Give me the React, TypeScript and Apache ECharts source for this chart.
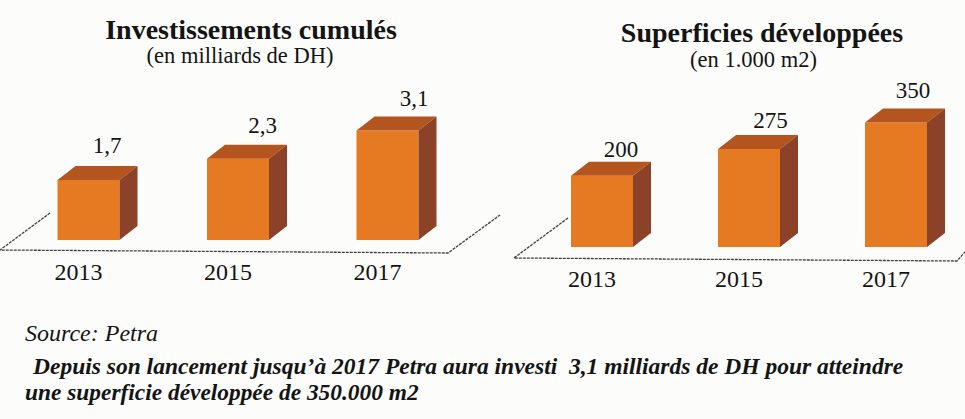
import React, { useEffect, useRef } from "react";
import * as echarts from "echarts";

const years = ["2013", "2015", "2017"];
const investValues = [1.7, 2.3, 3.1];
const areaValues = [200, 275, 350];

const titleLeft = "Investissements cumulés";
const subLeft = "(en milliards de DH)";
const titleRight = "Superficies développées";
const subRight = "(en 1.000 m2)";
const sourceText = "Source: Petra";
const noteLine1 = "Depuis son lancement jusqu’à 2017 Petra aura investi  3,1 milliards de DH pour atteindre";
const noteLine2 = "une superficie développée de 350.000 m2";

const SERIF = '"Liberation Serif", "Times New Roman", serif';
const INK = "#141414";
const FLOOR = "#3e3e3c";

// Where each value label sits relative to its box (layout, not data).
const leftLabelShift = [[18.5, 20], [24.5, 19], [26.5, 18]];
const rightLabelShift = [[19, 12], [21.5, 15], [17, 18]];

const renderBox3D = (fmt: (v: number) => string, shifts: number[][]) => (p: any, api: any) => {
  const w = 62, dx = 18, dy = 14;
  const v = api.value(1);
  const c = api.value(0);
  const base = api.coord([c, 0]);
  const top = api.coord([c, v]);
  const x0 = base[0] - w / 2;
  const x1 = base[0] + w / 2;
  const yB = base[1];
  const yT = top[1];
  const [lx, ly] = shifts[p.dataIndex];
  return {
    type: "group",
    children: [
      { type: "rect", shape: { x: x0, y: yT, width: w, height: yB - yT }, style: { fill: "#e67a22" } },
      { type: "polygon", shape: { points: [[x0, yT], [x0 + dx, yT - dy], [x1 + dx, yT - dy], [x1, yT]] }, style: { fill: "#b4551f" } },
      { type: "polygon", shape: { points: [[x1, yT], [x1 + dx, yT - dy], [x1 + dx, yB - dy], [x1, yB]] }, style: { fill: "#8c4228" } },
      {
        type: "text",
        x: base[0] + lx,
        y: yT - dy - ly,
        style: { text: fmt(v), font: `23px ${SERIF}`, fill: INK, textAlign: "center", textVerticalAlign: "middle" },
      },
    ],
  };
};

const xAxisOf = (gridIndex: number, margin: number) => ({
  type: "category" as const,
  gridIndex,
  data: years,
  axisLine: { show: false },
  axisTick: { show: false },
  axisLabel: { margin, fontFamily: SERIF, fontSize: 24, color: INK, padding: [0, 20, 0, 0] },
});
const yAxisOf = (gridIndex: number, max: number) => ({
  type: "value" as const,
  gridIndex,
  min: 0,
  max,
  show: false,
  splitLine: { show: false },
});
const floor = (points: number[][]) => ({
  type: "polyline",
  silent: true,
  shape: { points },
  style: { fill: "none", stroke: FLOOR, lineWidth: 1.3, lineDash: [3, 1] },
});
const heading = (text: string, left: number, top: number, bold: boolean) => ({
  text,
  left,
  top,
  textAlign: "center" as const,
  textStyle: {
    fontFamily: SERIF,
    fontSize: bold ? 28 : 22.5,
    fontWeight: bold ? ("bold" as const) : ("normal" as const),
    color: INK,
  },
});
const note = (text: string, x: number, y: number, font: string) => ({
  type: "text",
  x,
  y,
  style: { text, font, fill: INK, textVerticalAlign: "middle" },
});

export default function App() {
  const ref = useRef<HTMLDivElement>(null);
  useEffect(() => {
    document.body.style.margin = "0";
    const chart = echarts.init(ref.current!, undefined, { renderer: "svg" });
    chart.setOption({
      animation: false,
      backgroundColor: "#fcfcfb",
      title: [
        heading(titleLeft, 246, 10, true),
        heading(subLeft, 235, 39, false),
        heading(titleRight, 757, 13, true),
        heading(subRight, 748.5, 43, false),
      ],
      grid: [
        { left: 13.75, width: 448.5, top: 98.8, height: 141.2, outerBoundsMode: "none" },
        { left: 528.5, width: 441, top: 104.6, height: 142.4, outerBoundsMode: "none" },
      ],
      xAxis: [xAxisOf(0, 20), xAxisOf(1, 20)],
      yAxis: [yAxisOf(0, 4), yAxisOf(1, 400)],
      series: [
        {
          type: "custom",
          xAxisIndex: 0,
          yAxisIndex: 0,
          clip: false,
          encode: { x: 0, y: 1 },
          data: investValues.map((v, i) => [i, v]),
          renderItem: renderBox3D((v) => String(v).replace(".", ","), leftLabelShift),
        },
        {
          type: "custom",
          xAxisIndex: 1,
          yAxisIndex: 1,
          clip: false,
          encode: { x: 0, y: 1 },
          data: areaValues.map((v, i) => [i, v]),
          renderItem: renderBox3D((v) => String(v), rightLabelShift),
        },
      ],
      graphic: [
        floor([[50, 213], [0, 250], [448, 253], [500, 215]]),
        floor([[568, 218], [514, 258], [957, 261], [965, 252]]),
        note(sourceText, 25, 333, `italic 24px ${SERIF}`),
        note(noteLine1, 33, 366, `italic bold 23.5px ${SERIF}`),
        note(noteLine2, 25, 392, `italic bold 23.4px ${SERIF}`),
      ],
    });
    return () => chart.dispose();
  }, []);
  return <div ref={ref} style={{ width: 965, height: 419 }} />;
}
